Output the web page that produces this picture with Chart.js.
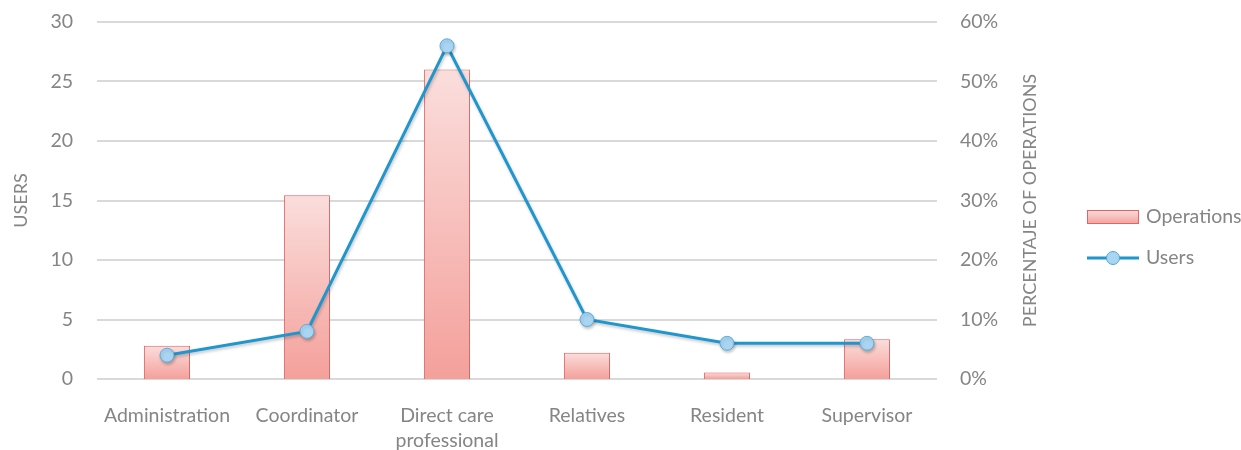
<!DOCTYPE html>
<html>
<head>
<meta charset="utf-8">
<script src="https://cdn.jsdelivr.net/npm/chart.js@4.4.1/dist/chart.umd.min.js"></script>
<style>
  html, body { margin: 0; padding: 0; background: #fff; }
  #wrap { width: 1241px; height: 450px; }
</style>
</head>
<body>
<div id="wrap"><canvas id="combo"></canvas></div>
<script>
const categories = ['Administration', 'Coordinator', ['Direct care', 'professional'], 'Relatives', 'Resident', 'Supervisor'];
const operationsPct = [5.6, 30.9, 52.0, 4.4, 1.1, 6.7];
const users = [2, 4, 28, 5, 3, 3];
const userTicks = [0, 5, 10, 15, 20, 25, 30];
const pctTicks = [0, 10, 20, 30, 40, 50, 60];

const grey = '#858585';
const font = { family: 'Lato, Carlito, sans-serif', size: 19.5, lineHeight: 1.25 };
const titleFont = { family: 'Lato, Carlito, sans-serif', size: 18 };
const fontCss = '19.5px Lato, Carlito, sans-serif';

// pink gradient for each bar, lighter at the top
function barFill(c) {
  const chart = c.chart;
  if (!chart.chartArea || c.raw == null) return '#f5b0ac';
  const s = chart.scales.y1;
  const top = s.getPixelForValue(c.raw);
  const base = s.getPixelForValue(0);
  const g = chart.ctx.createLinearGradient(0, top, 0, base);
  g.addColorStop(0, '#fadedc');
  g.addColorStop(1, '#f4a09b');
  return g;
}

// legend + right axis title drawn by hand
const extras = {
  id: 'extras',
  afterDraw(chart) {
    const ctx = chart.ctx;
    const a = chart.chartArea;
    ctx.save();
    ctx.fillStyle = grey;
    ctx.font = '18px Lato, Carlito, sans-serif';
    ctx.textAlign = 'center';
    ctx.textBaseline = 'middle';
    ctx.translate(1030, (a.top + a.bottom) / 2);
    ctx.rotate(-Math.PI / 2);
    ctx.fillText('PERCENTAJE OF OPERATIONS', 0, 0);
    ctx.restore();

    ctx.save();
    const lx = 1087;
    const g = ctx.createLinearGradient(0, 210, 0, 224);
    g.addColorStop(0, '#fadedc');
    g.addColorStop(1, '#f4a09b');
    ctx.fillStyle = g;
    ctx.fillRect(lx, 210, 52, 14);
    ctx.strokeStyle = '#e06666';
    ctx.lineWidth = 1;
    ctx.strokeRect(lx + 0.5, 210.5, 51, 13);

    ctx.strokeStyle = '#1f96cd';
    ctx.lineWidth = 3;
    ctx.beginPath();
    ctx.moveTo(lx, 258);
    ctx.lineTo(lx + 52, 258);
    ctx.stroke();
    ctx.beginPath();
    ctx.arc(lx + 26, 258, 6.5, 0, Math.PI * 2);
    ctx.fillStyle = '#aad5f2';
    ctx.fill();
    ctx.lineWidth = 1;
    ctx.strokeStyle = '#4aa6d9';
    ctx.stroke();

    ctx.fillStyle = grey;
    ctx.font = fontCss;
    ctx.textAlign = 'left';
    ctx.textBaseline = 'middle';
    ctx.fillText(chart.data.datasets[0].label, 1146, 217);
    ctx.fillText(chart.data.datasets[1].label, 1146, 258);
    ctx.restore();
  }
};

// soft shadow under the marks
const shadow = {
  id: 'shadow',
  beforeDatasetDraw(chart) {
    const ctx = chart.ctx;
    ctx.save();
    ctx.shadowColor = 'rgba(0,0,0,0.22)';
    ctx.shadowBlur = 3;
    ctx.shadowOffsetX = 1;
    ctx.shadowOffsetY = 2;
  },
  afterDatasetDraw(chart) {
    chart.ctx.restore();
  }
};

new Chart(document.getElementById('combo'), {
  type: 'bar',
  data: {
    labels: categories,
    datasets: [{
      type: 'bar',
      label: 'Operations',
      data: operationsPct,
      yAxisID: 'y1',
      backgroundColor: barFill,
      borderColor: '#e06666',
      borderWidth: 1,
      barPercentage: 0.33,
      categoryPercentage: 1,
      order: 2
    }, {
      type: 'line',
      label: 'Users',
      data: users,
      yAxisID: 'y',
      borderColor: '#1f96cd',
      borderWidth: 3,
      tension: 0,
      pointRadius: 7,
      pointBackgroundColor: '#aad5f2',
      pointBorderColor: '#5aaedd',
      pointBorderWidth: 1,
      order: 1
    }]
  },
  options: {
    responsive: true,
    maintainAspectRatio: false,
    animation: false,
    layout: { padding: { top: 22, right: 0, left: 0, bottom: 0 } },
    scales: {
      x: {
        grid: { display: false, drawTicks: false },
        border: { display: false },
        ticks: { color: grey, font: font, padding: 25, maxRotation: 0, autoSkip: false },
        afterFit(s) { s.height = 71; }
      },
      y: {
        position: 'left',
        min: 0,
        max: 30,
        afterBuildTicks(s) { s.ticks = userTicks.map(v => ({ value: v })); },
        grid: { color: '#d9d9d9', lineWidth: 2, drawTicks: false },
        border: { display: false },
        ticks: { color: grey, font: font, padding: 24 },
        title: { display: true, text: 'USERS', color: grey, font: titleFont, padding: { top: 10, bottom: 0 } },
        afterFit(s) { s.width = 97; s.paddingTop = 0; s.paddingBottom = 0; }
      },
      y1: {
        position: 'right',
        min: 0,
        max: 60,
        afterBuildTicks(s) { s.ticks = pctTicks.map(v => ({ value: v })); },
        grid: { display: false, drawOnChartArea: false, drawTicks: false },
        border: { display: false },
        ticks: { color: grey, font: font, padding: 23, callback: v => v + '%' },
        afterFit(s) { s.width = 304; s.paddingTop = 0; s.paddingBottom = 0; }
      }
    },
    plugins: {
      legend: { display: false },
      tooltip: { enabled: false }
    }
  },
  plugins: [shadow, extras]
});
</script>
</body>
</html>
